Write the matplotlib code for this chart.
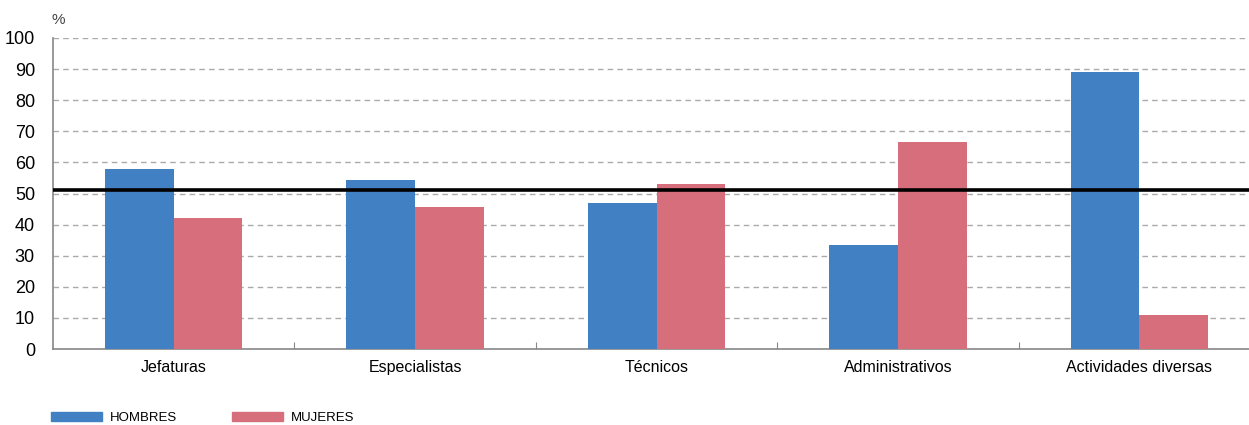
import matplotlib.pyplot as plt
import numpy as np
from matplotlib.patches import Patch

# datos
categorias = ['Jefaturas', 'Especialistas', 'Técnicos', 'Administrativos', 'Actividades diversas']
hombres = [57.8, 54.3, 47.0, 33.5, 89.2]
mujeres = [42.2, 45.7, 53.0, 66.5, 10.8]
promedio = 51
series = ['HOMBRES', 'MUJERES']
colores = ['#4180c3', '#d76e7b']

plt.rcParams['font.family'] = ['Liberation Sans', 'DejaVu Sans']

fig = plt.figure(figsize=(12.49, 4.25), dpi=100)
# the plot is cut off at the right edge
ax = fig.add_axes([53/1249, 1 - 349/425, 1207/1249, 311/425])

x = np.arange(len(categorias))
w = 0.285
ax.bar(x - w/2, hombres, w, color=colores[0], zorder=3)
ax.bar(x + w/2, mujeres, w, color=colores[1], zorder=3)
ax.axhline(promedio, color='black', lw=2.6, zorder=4)

ax.set_xlim(-0.5, len(categorias) - 0.5)
ax.set_ylim(0, 100)
ax.set_yticks(range(0, 101, 10))
ax.yaxis.grid(True, color='#aaaaaa', ls=(0, (4, 3)), lw=1, zorder=0)
ax.tick_params(axis='y', length=0, labelsize=13, pad=13)

ax.set_xticks(np.arange(len(categorias)) + 0.5)
ax.set_xticklabels([])
ax.set_xticks(x, minor=True)
ax.set_xticklabels(categorias, minor=True, fontsize=11.5)
ax.tick_params(axis='x', which='major', direction='in', length=5, color='#888888')
ax.tick_params(axis='x', which='minor', length=0, pad=8)

for s in ['top', 'right']:
    ax.spines[s].set_visible(False)
for s in ['left', 'bottom']:
    ax.spines[s].set_color('#888888')
    ax.spines[s].set_linewidth(1.2)

fig.text(52/1249, 1 - 20/425, '%', fontsize=11, color='#444444', va='center')

handles = [Patch(color=c, label=s) for c, s in zip(colores, series)]
fig.legend(handles=handles, loc='center left', bbox_to_anchor=(39/1249, 1 - 418/425),
           ncol=2, frameon=False, handlelength=3.9, handleheight=0.6,
           columnspacing=4.1, handletextpad=0.6,
           prop={'family': ['Liberation Sans Narrow', 'Liberation Sans'], 'size': 9.5})

fig.savefig('out.png', dpi=100)
